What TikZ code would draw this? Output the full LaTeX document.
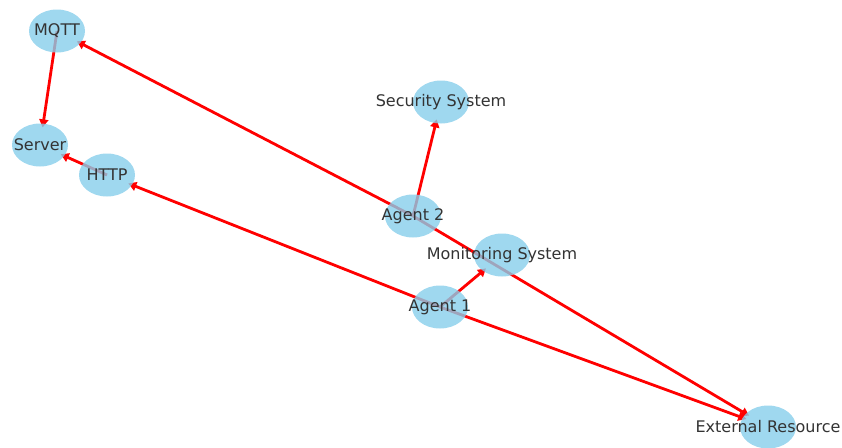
\documentclass[tikz,border=0pt]{standalone}
\usepackage{fontspec}
\setmainfont{DejaVu Sans}
\usetikzlibrary{arrows.meta,backgrounds,shapes.geometric}
\definecolor{skyblue}{HTML}{87CEEB}
\begin{document}
\begin{tikzpicture}[x=1pt, y=-1pt,
    main/.style = {ellipse, fill=skyblue, fill opacity=0.8, minimum width=56pt, minimum height=43pt, inner sep=0pt},
    lbl/.style = {font=\fontsize{16}{18}\selectfont, text=black!80, text opacity=1, inner sep=0pt},
    link/.style = {red, line width=2.8pt, -{Triangle[length=8pt,width=9pt]}, shorten >=-4pt}]
    \useasboundingbox (0,0) rectangle (842,447);
    \node[main, label={[lbl]center:MQTT}] (mqtt) at (57,31) {};
    \node[main, label={[lbl]center:Server}] (server) at (40,145) {};
    \node[main, label={[lbl]center:HTTP}] (http) at (107,175) {};
    \node[main, label={[lbl]center:Security System}] (sec) at (441,102) {};
    \node[main, label={[lbl]center:Agent 2}] (agent2) at (413,216) {};
    \node[main, label={[lbl]center:Monitoring System}] (mon) at (502,255) {};
    \node[main, label={[lbl]center:Agent 1}] (agent1) at (440,307) {};
    \node[main, label={[lbl]center:External Resource}] (ext) at (768,427) {};
    \begin{scope}[on background layer]
        \draw[link] (mqtt.center) -- (server);
        \draw[link] (http.center) -- (server);
        \draw[link] (agent1.center) -- (http);
        \draw[link] (agent2.center) -- (mqtt);
        \draw[link] (agent2.center) -- (sec);
        \draw[link] (agent2.center) -- (ext);
        \draw[link] (agent1.center) -- (mon);
        \draw[link] (agent1.center) -- (ext);
    \end{scope}
\end{tikzpicture}
\end{document}
